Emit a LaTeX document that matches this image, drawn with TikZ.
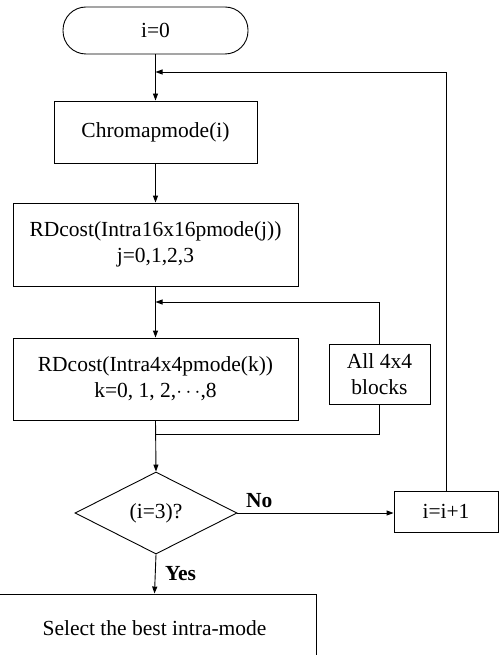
\documentclass[tikz,border=0pt]{standalone}
\usepackage{fontspec}
\setmainfont{Liberation Serif}
\usetikzlibrary{shapes.geometric,arrows.meta}

\tikzset{
  box/.style={draw, line width=0.9pt, rectangle, inner sep=0pt, align=center,
    font=\fontsize{21.5}{26}\selectfont},
  term/.style={box, rounded corners=23pt},
  decision/.style={draw, line width=0.9pt, diamond, inner sep=0pt,
    font=\fontsize{21.5}{26}\selectfont},
  arr/.style={line width=0.9pt, -{Triangle[length=7pt,width=5pt]}},
  line/.style={line width=0.9pt},
  lbl/.style={font=\fontsize{21.5}{26}\selectfont\bfseries}
}

\begin{document}
\begin{tikzpicture}[x=1pt, y=-1pt]

  \useasboundingbox (0,0) rectangle (499,655);
  \clip (0,0) rectangle (499,655);

  % Start
  \node[term, minimum width=185pt, minimum height=47pt] (start) at (155.5,30.5) {i=0};

  % Chroma mode
  \node[box, minimum width=203pt, minimum height=62pt] (chroma) at (155.5,132) {Chromapmode(i)};

  % 16x16 luma modes
  \node[box, minimum width=285pt, minimum height=83pt] (rd16) at (155.5,244.5)
    {RDcost(Intra16x16pmode(j))\\j=0,1,2,3};

  % 4x4 luma modes
  \node[box, minimum width=285pt, minimum height=82pt] (rd4) at (155.5,379)
    {RDcost(Intra4x4pmode(k))\\k=0, 1, 2,$\cdots$,8};
  \node[box, minimum width=101pt, minimum height=60pt] (blocks) at (379.5,374)
    {All 4x4\\blocks};

  % Test
  \node[decision, minimum width=162pt, minimum height=82pt] (test) at (156,513) {(i=3)?};
  \node[box, minimum width=104pt, minimum height=41pt] (inc) at (446,511.5) {i=i+1};

  % Result (runs off the page)
  \node[box, minimum width=323pt, minimum height=68pt] (best) at (154.5,628)
    {Select the best intra-mode};

  % Join points
  \coordinate (j1) at (155.5,72);
  \coordinate (j2) at (155.5,302);
  \coordinate (j3) at (155.5,434);

  % Connectors
  \draw[arr] (start) -- (chroma);
  \draw[arr] (chroma) -- (rd16);
  \draw[arr] (rd16) -- (rd4);
  \draw[arr] (rd4.south) -- (test.north);
  \draw[line] (j3) -| (blocks.south);
  \draw[arr] (blocks.north) |- (j2);
  \draw[arr] (test.east) -- (test.east -| inc.west) node[lbl, pos=0.14, above=2pt] {No};
  \draw[arr] (inc.north) |- (j1);
  \draw[arr] (test.south) -- (best.north) node[lbl, midway, right=6pt] {Yes};

\end{tikzpicture}
\end{document}
